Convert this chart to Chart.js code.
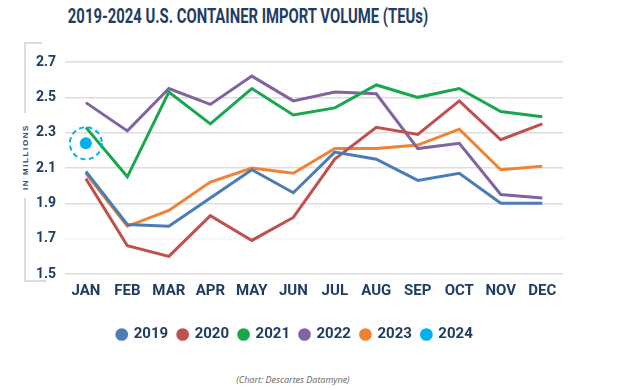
<!DOCTYPE html>
<html>
<head>
<meta charset="utf-8">
<script src="https://cdn.jsdelivr.net/npm/chart.js@4.4.1/dist/chart.umd.min.js"></script>
<style>
  html, body { margin: 0; padding: 0; background: #ffffff; }
  body { width: 624px; height: 390px; position: relative; overflow: hidden; }
  #wrap { position: absolute; left: 0; top: 0; width: 584px; height: 352px; }
  #title { position: absolute; left: 248px; top: 4px; transform: translateX(-50%) scaleX(0.742);
    font-family: Roboto, sans-serif; font-weight: bold;
    font-size: 20px; color: #1f3d63; white-space: nowrap; }
  #ylab { position: absolute; left: 25px; top: 157px; transform: translate(-50%, -50%) rotate(-90deg);
    font-family: 'Liberation Sans', Roboto, sans-serif; font-weight: bold; font-size: 8px; letter-spacing: 1.6px;
    color: #2b4a6f; white-space: nowrap; }
  .br { position: absolute; background: #dcdcdc; }
  #caption { position: absolute; left: 193px; width: 200px; top: 373px; text-align: center;
    font-family: 'Open Sans', 'Liberation Sans', sans-serif; font-style: italic; font-size: 9px; color: #666; }
</style>
</head>
<body>
<div id="title">2019-2024 U.S. CONTAINER IMPORT VOLUME (TEUs)</div>
<div class="br" style="left:24px; top:42px; width:2px; height:71px;"></div>
<div class="br" style="left:24px; top:42px; width:18px; height:2px;"></div>
<div class="br" style="left:24px; top:198px; width:2px; height:84px;"></div>
<div class="br" style="left:24px; top:280px; width:22px; height:2px;"></div>
<div id="ylab">IN MILLIONS</div>
<div id="wrap"><canvas id="c"></canvas></div>
<div id="caption">(Chart: Descartes Datamyne)</div>
<script>
const months = ['JAN','FEB','MAR','APR','MAY','JUN','JUL','AUG','SEP','OCT','NOV','DEC'];
const yTickValues = [1.5, 1.7, 1.9, 2.1, 2.3, 2.5, 2.7];
const v2019 = [2.08, 1.78, 1.77, 1.93, 2.09, 1.96, 2.19, 2.15, 2.03, 2.07, 1.90, 1.90];
const v2020 = [2.04, 1.66, 1.60, 1.83, 1.69, 1.82, 2.15, 2.33, 2.29, 2.48, 2.26, 2.35];
const v2021 = [2.33, 2.05, 2.53, 2.35, 2.55, 2.40, 2.44, 2.57, 2.50, 2.55, 2.42, 2.39];
const v2022 = [2.47, 2.31, 2.55, 2.46, 2.62, 2.48, 2.53, 2.52, 2.21, 2.24, 1.95, 1.93];
const v2023 = [2.07, 1.77, 1.86, 2.02, 2.10, 2.07, 2.21, 2.21, 2.23, 2.32, 2.09, 2.11];
const v2024 = [2.24, null, null, null, null, null, null, null, null, null, null, null];
const years = ['2019','2020','2021','2022','2023','2024'];
const colors = ['#4a7db6', '#c0504d', '#19a74e', '#8064a2', '#f28233', '#00b0f0'];

const NAVY = '#1f3d63';
const FONT = "Roboto, sans-serif";

const series = [v2019, v2020, v2021, v2022, v2023, v2024];
const datasets = series.map((d, i) => ({
  label: years[i],
  data: d,
  borderColor: colors[i],
  backgroundColor: colors[i],
  borderWidth: 3,
  pointRadius: i === 5 ? 6 : 0,
  pointHoverRadius: i === 5 ? 6 : 0,
  pointBorderWidth: 0,
  showLine: i !== 5,
  tension: 0,
  spanGaps: false
}));

const haloPlugin = {
  id: 'halo',
  afterDatasetsDraw(chart) {
    const meta = chart.getDatasetMeta(5);
    const pt = meta.data[0];
    if (!pt) return;
    const ctx = chart.ctx;
    ctx.save();
    ctx.beginPath();
    ctx.setLineDash([5, 3.5]);
    ctx.lineWidth = 2;
    ctx.strokeStyle = colors[5];
    ctx.arc(pt.x, pt.y, 16, 0, Math.PI * 2);
    ctx.stroke();
    ctx.restore();
  }
};

new Chart(document.getElementById('c'), {
  type: 'line',
  data: { labels: months, datasets },
  options: {
    responsive: true,
    maintainAspectRatio: false,
    animation: false,
    layout: { padding: { left: 27, right: 21, top: 62, bottom: 0 } },
    plugins: {
      tooltip: { enabled: false },
      legend: {
        position: 'bottom',
        labels: {
          usePointStyle: true,
          pointStyle: 'circle',
          boxWidth: 9,
          boxHeight: 9,
          padding: 10,
          color: NAVY,
          font: { family: FONT, weight: 'bold', size: 15 }
        }
      }
    },
    scales: {
      x: {
        offset: true,
        grid: { display: false, drawTicks: false },
        border: { display: false },
        ticks: { color: NAVY, padding: 8, font: { family: FONT, weight: 'bold', size: 15 } },
        afterFit(scale) { scale.height += 9; }
      },
      y: {
        min: 1.5,
        max: 2.7,
        afterBuildTicks(scale) { scale.ticks = yTickValues.map(v => ({ value: v })); },
        grid: {
          drawTicks: false,
          lineWidth: 1.5,
          color: (c) => (c.tick && Math.abs(c.tick.value - 1.7) < 1e-6) ? '#f4f4f4' : '#dddddd'
        },
        border: { display: false },
        ticks: {
          color: NAVY,
          padding: 9,
          font: { family: FONT, weight: 'bold', size: 14 },
          callback: (v) => Number(v).toFixed(1)
        }
      }
    }
  },
  plugins: [haloPlugin]
});
</script>
</body>
</html>
